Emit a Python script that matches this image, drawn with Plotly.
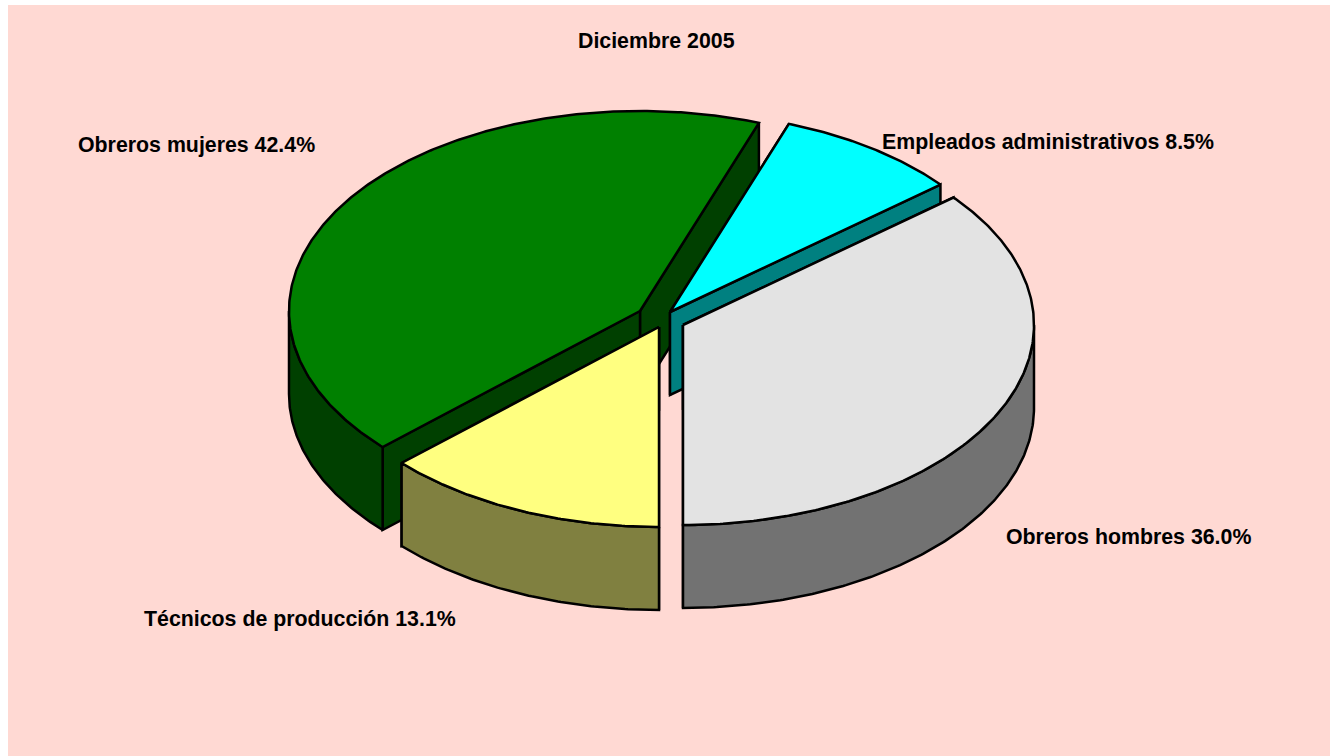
import numpy as np
import plotly.graph_objects as go

categories = ["Técnicos de producción", "Obreros mujeres", "Empleados administrativos", "Obreros hombres"]
values = [13.1, 42.4, 8.5, 36.0]
title_text = "Diciembre 2005"

# styles, same order as categories
top_colors = ["#FFFF80", "#008000", "#00FFFF", "#E3E3E3"]
side_colors = ["#808040", "#004000", "#008080", "#727272"]

# pie geometry in page pixels
RX, RY, DEPTH = 351, 200, 83
apex_x = [659, 640, 670, 683]
apex_y = [327, 311, 312, 325]
label_x = [299.5, 196, 1047.5, 1128]
label_y = [619, 145, 142, 537]
draw_order = [1, 2, 0, 3]

W, H = 1330, 756


def arc(ax, ay, a0, a1):
    # angles in degrees, clockwise starting from straight down
    th = np.radians(np.linspace(a0, a1, max(int(abs(a1 - a0)) * 2, 2)))
    return ax - RX * np.sin(th), ay + RY * np.cos(th)


def add_poly(fig, x, y, color):
    fig.add_trace(go.Scatter(x=list(x) + [x[0]], y=list(y) + [y[0]], mode="lines",
                             fill="toself", fillcolor=color,
                             line=dict(color="black", width=2.5),
                             hoverinfo="skip", showlegend=False))


def add_slice(fig, i, a0, a1):
    ax, ay, top, side = apex_x[i], apex_y[i], top_colors[i], side_colors[i]
    # cut faces, the one further back first
    ends = sorted((arc(ax, ay, a, a) for a in (a0, a1)), key=lambda e: e[1][0])
    for ex, ey in ends:
        add_poly(fig, [ax, ex[0], ex[0], ax], [ay, ey[0], ey[0] + DEPTH, ay + DEPTH], side)
    # outer wall, only the front half of the ellipse shows
    for lo, hi in ((-90, 90), (270, 450)):
        s, e = max(a0, lo), min(a1, hi)
        if e > s:
            wx, wy = arc(ax, ay, s, e)
            add_poly(fig, list(wx) + list(wx[::-1]), list(wy) + list(wy[::-1] + DEPTH), side)
    # top face
    tx, ty = arc(ax, ay, a0, a1)
    add_poly(fig, [ax] + list(tx), [ay] + list(ty), top)


fig = go.Figure()
edges = np.concatenate([[0], np.cumsum(values)]) / sum(values) * 360
for i in draw_order:
    add_slice(fig, i, edges[i], edges[i + 1])

fig.add_annotation(x=656, y=41, text=f"<b>{title_text}</b>", showarrow=False)
for i, c in enumerate(categories):
    fig.add_annotation(x=label_x[i], y=label_y[i], text=f"<b>{c} {values[i]:.1f}%</b>", showarrow=False)

fig.update_layout(
    width=W, height=H,
    margin=dict(l=0, r=0, t=0, b=0),
    paper_bgcolor="white",
    plot_bgcolor="white",
    font=dict(family="Liberation Sans", size=21.33, color="black"),
    xaxis=dict(range=[0, W], visible=False, fixedrange=True),
    yaxis=dict(range=[H, 0], visible=False, fixedrange=True),
    shapes=[dict(type="rect", xref="x", yref="y", x0=8, y0=5, x1=W, y1=H,
                 fillcolor="#FFD9D3", line_width=0, layer="below")],
)
fig.write_html("out.html", config={"displayModeBar": False},
               post_script="document.body.style.margin='0';")
